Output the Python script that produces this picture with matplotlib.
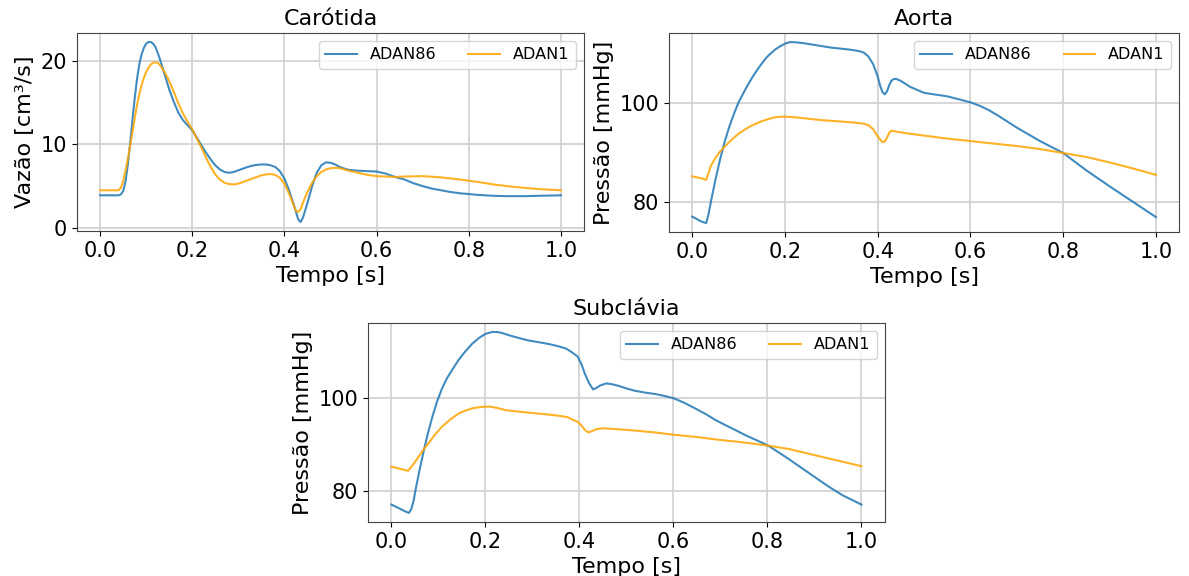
import matplotlib.pyplot as plt

# Carótida (vazão)
car_t86 = [0.0, 0.02, 0.04, 0.045, 0.05, 0.055, 0.06, 0.065, 0.07, 0.075, 0.08, 0.085, 0.09,
           0.095, 0.10, 0.105, 0.11, 0.115, 0.12, 0.125, 0.13, 0.14, 0.15, 0.16, 0.17, 0.18,
           0.19, 0.20, 0.21, 0.22, 0.23, 0.24, 0.25, 0.26, 0.27, 0.28, 0.29, 0.30, 0.31,
           0.32, 0.33, 0.34, 0.35, 0.36, 0.37, 0.38, 0.39, 0.40, 0.41, 0.42, 0.43, 0.435,
           0.44, 0.45, 0.46, 0.47, 0.48, 0.49, 0.50, 0.51, 0.52, 0.53, 0.54, 0.56, 0.58,
           0.60, 0.62, 0.64, 0.66, 0.68, 0.70, 0.72, 0.74, 0.76, 0.78, 0.80, 0.82, 0.85,
           0.88, 0.92, 0.96, 1.0]
car_v86 = [3.9, 3.9, 3.9, 4.0, 4.4, 5.5, 7.5, 10.0, 12.8, 15.5, 17.8, 19.6, 20.8,
           21.6, 22.1, 22.3, 22.3, 22.1, 21.7, 21.0, 20.2, 18.4, 16.6, 15.1, 13.8, 12.9,
           12.3, 11.7, 10.8, 9.9, 9.0, 8.2, 7.5, 7.0, 6.7, 6.6, 6.7, 6.9, 7.1,
           7.3, 7.45, 7.55, 7.6, 7.6, 7.5, 7.3, 6.8, 5.9, 4.5, 2.8, 1.0, 0.7,
           1.2, 3.0, 5.0, 6.6, 7.5, 7.85, 7.8, 7.6, 7.3, 7.1, 6.95, 6.85, 6.8,
           6.75, 6.5, 6.1, 5.8, 5.35, 5.0, 4.7, 4.5, 4.3, 4.15, 4.05, 3.95, 3.85,
           3.8, 3.8, 3.85, 3.9]
car_t1 = [0.0, 0.02, 0.04, 0.045, 0.05, 0.055, 0.06, 0.065, 0.07, 0.075, 0.08, 0.085, 0.09,
          0.095, 0.10, 0.105, 0.11, 0.115, 0.12, 0.125, 0.13, 0.14, 0.15, 0.16, 0.17, 0.18,
          0.19, 0.20, 0.21, 0.22, 0.23, 0.24, 0.25, 0.26, 0.27, 0.28, 0.29, 0.30, 0.31,
          0.32, 0.33, 0.34, 0.35, 0.36, 0.37, 0.38, 0.39, 0.40, 0.41, 0.42, 0.425, 0.43,
          0.435, 0.44, 0.45, 0.46, 0.47, 0.48, 0.49, 0.50, 0.51, 0.52, 0.53, 0.54, 0.56,
          0.58, 0.60, 0.62, 0.64, 0.66, 0.70, 0.74, 0.78, 0.82, 0.86, 0.90, 0.95, 1.0]
car_v1 = [4.5, 4.5, 4.5, 4.8, 5.6, 6.8, 8.2, 9.8, 11.4, 13.1, 14.7, 16.0, 17.1,
          18.0, 18.7, 19.2, 19.6, 19.8, 19.85, 19.8, 19.5, 18.7, 17.6, 16.3, 14.9, 13.7,
          12.7, 11.8, 10.7, 9.6, 8.4, 7.3, 6.4, 5.8, 5.4, 5.25, 5.2, 5.3, 5.5,
          5.7, 5.9, 6.1, 6.3, 6.4, 6.45, 6.35, 6.0, 5.3, 4.1, 2.7, 2.0, 1.9,
          2.2, 3.0, 4.3, 5.4, 6.2, 6.7, 7.0, 7.15, 7.2, 7.15, 7.0, 6.85, 6.6,
          6.35, 6.2, 6.15, 6.1, 6.15, 6.2, 6.05, 5.8, 5.5, 5.15, 4.9, 4.65, 4.5]

# Aorta (pressão)
aor_t86 = [0.0, 0.01, 0.02, 0.03, 0.035, 0.04, 0.05, 0.06, 0.07, 0.08, 0.09, 0.10, 0.11,
           0.12, 0.13, 0.14, 0.15, 0.16, 0.17, 0.18, 0.19, 0.20, 0.21, 0.22, 0.24, 0.26,
           0.28, 0.30, 0.32, 0.34, 0.36, 0.37, 0.38, 0.39, 0.40, 0.405, 0.41, 0.415, 0.42,
           0.425, 0.43, 0.435, 0.44, 0.45, 0.47, 0.50, 0.55, 0.60, 0.62, 0.64, 0.66, 0.68,
           0.70, 0.75, 0.80, 0.85, 0.90, 0.95, 1.0]
aor_v86 = [77.1, 76.6, 76.1, 75.8, 77.5, 80.0, 84.5, 88.6, 92.2, 95.2, 97.8, 100.1, 101.9,
           103.6, 105.2, 106.6, 107.9, 109.1, 110.0, 110.8, 111.4, 111.9, 112.2, 112.2, 112.0, 111.7,
           111.4, 111.1, 110.9, 110.7, 110.4, 110.1, 109.3, 107.8, 105.3, 103.5, 102.2, 101.7, 102.3,
           103.6, 104.5, 104.8, 104.8, 104.4, 103.2, 102.0, 101.3, 100.1, 99.4, 98.5, 97.4, 96.2,
           95.0, 92.3, 89.9, 86.4, 83.2, 80.1, 77.0]
aor_t1 = [0.0, 0.01, 0.02, 0.03, 0.035, 0.04, 0.05, 0.06, 0.07, 0.08, 0.09, 0.10, 0.11,
          0.12, 0.13, 0.14, 0.15, 0.16, 0.17, 0.18, 0.19, 0.20, 0.22, 0.25, 0.28, 0.31,
          0.34, 0.36, 0.37, 0.38, 0.39, 0.40, 0.41, 0.415, 0.42, 0.425, 0.43, 0.44, 0.46,
          0.50, 0.55, 0.60, 0.65, 0.70, 0.75, 0.80, 0.85, 0.90, 0.95, 1.0]
aor_v1 = [85.2, 85.0, 84.8, 84.5, 85.8, 87.3, 88.9, 90.2, 91.2, 92.1, 93.0, 93.8, 94.4,
          95.0, 95.5, 95.9, 96.3, 96.6, 96.9, 97.1, 97.2, 97.2, 97.1, 96.8, 96.5, 96.3,
          96.1, 95.9, 95.8, 95.5, 94.7, 93.2, 92.1, 92.2, 93.0, 94.0, 94.4, 94.2, 93.9,
          93.4, 92.8, 92.3, 91.8, 91.3, 90.7, 89.9, 89.1, 88.0, 86.8, 85.5]

# Subclávia (pressão)
sub_t86 = [0.0, 0.01, 0.02, 0.03, 0.037, 0.042, 0.047, 0.051, 0.06, 0.069, 0.078, 0.087, 0.097,
           0.108, 0.118, 0.129, 0.143, 0.157, 0.171, 0.186, 0.2, 0.214, 0.225, 0.235, 0.25,
           0.271, 0.29, 0.313, 0.335, 0.356, 0.372, 0.384, 0.396, 0.404, 0.411, 0.42, 0.429,
           0.436, 0.443, 0.457, 0.47, 0.482, 0.5, 0.518, 0.54, 0.561, 0.58, 0.6, 0.623,
           0.646, 0.668, 0.689, 0.71, 0.732, 0.753, 0.775, 0.79, 0.804, 0.825, 0.846, 0.87,
           0.9, 0.93, 0.96, 1.0]
sub_v86 = [77.0, 76.5, 76.0, 75.5, 75.2, 76.0, 77.8, 80.1, 84.6, 88.8, 92.6, 96.0, 99.3,
           102.2, 104.3, 106.1, 108.3, 110.1, 111.7, 113.0, 113.9, 114.3, 114.3, 114.1, 113.6,
           113.0, 112.5, 112.1, 111.7, 111.2, 110.7, 109.9, 109.0, 107.4, 105.4, 103.3, 101.9,
           102.2, 102.7, 103.2, 103.0, 102.7, 102.1, 101.6, 101.2, 100.9, 100.5, 100.0, 99.0,
           97.8, 96.6, 95.3, 94.2, 93.1, 92.0, 91.0, 90.3, 89.6, 88.2, 86.8, 85.1,
           83.0, 80.9, 79.0, 77.0]
sub_t1 = [0.0, 0.02, 0.035, 0.045, 0.058, 0.069, 0.079, 0.093, 0.108, 0.125, 0.143, 0.157,
          0.172, 0.19, 0.207, 0.225, 0.243, 0.27, 0.299, 0.33, 0.356, 0.375, 0.384, 0.396,
          0.405, 0.412, 0.419, 0.427, 0.436, 0.45, 0.48, 0.518, 0.56, 0.6, 0.65, 0.696,
          0.735, 0.775, 0.804, 0.846, 0.9, 0.95, 1.0]
sub_v1 = [85.2, 84.7, 84.3, 85.5, 87.4, 89.0, 90.3, 92.2, 93.9, 95.4, 96.7, 97.3,
          97.8, 98.1, 98.2, 97.9, 97.4, 97.1, 96.8, 96.5, 96.2, 95.9, 95.4, 94.9,
          94.0, 93.1, 92.6, 92.9, 93.3, 93.5, 93.3, 93.0, 92.6, 92.1, 91.6, 91.0,
          90.6, 90.1, 89.7, 89.0, 87.7, 86.5, 85.3]

panels = [
    ("Carótida", "Vazão [cm³/s]", car_t86, car_v86, car_t1, car_v1),
    ("Aorta", "Pressão [mmHg]", aor_t86, aor_v86, aor_t1, aor_v1),
    ("Subclávia", "Pressão [mmHg]", sub_t86, sub_v86, sub_t1, sub_v1),
]
positions = [
    [0.0648, 0.599, 0.4264, 0.3438],
    [0.5627, 0.597, 0.429, 0.3455],
    [0.3095, 0.0938, 0.4348, 0.3455],
]

fig = plt.figure(figsize=(11.89, 5.76), dpi=100)
for (title, ylabel, t86, v86, t1, v1), pos in zip(panels, positions):
    ax = fig.add_axes(pos)
    ax.plot(t86, v86, color="#1f77b4", alpha=0.85, lw=1.5, label="ADAN86")
    ax.plot(t1, v1, color="orange", alpha=0.85, lw=1.5, label="ADAN1")
    ax.set_title(title, fontsize=16)
    ax.set_xlabel("Tempo [s]", fontsize=16)
    ax.set_ylabel(ylabel, fontsize=16)
    ax.tick_params(labelsize=15)
    ax.set_xticks([0.0, 0.2, 0.4, 0.6, 0.8, 1.0])
    ax.grid(color="lightgray", lw=1.3)
    for s in ax.spines.values():
        s.set_color("#444444")
    ax.legend(loc="upper right", ncol=2, fontsize=11.5)

fig.savefig("out.png")
